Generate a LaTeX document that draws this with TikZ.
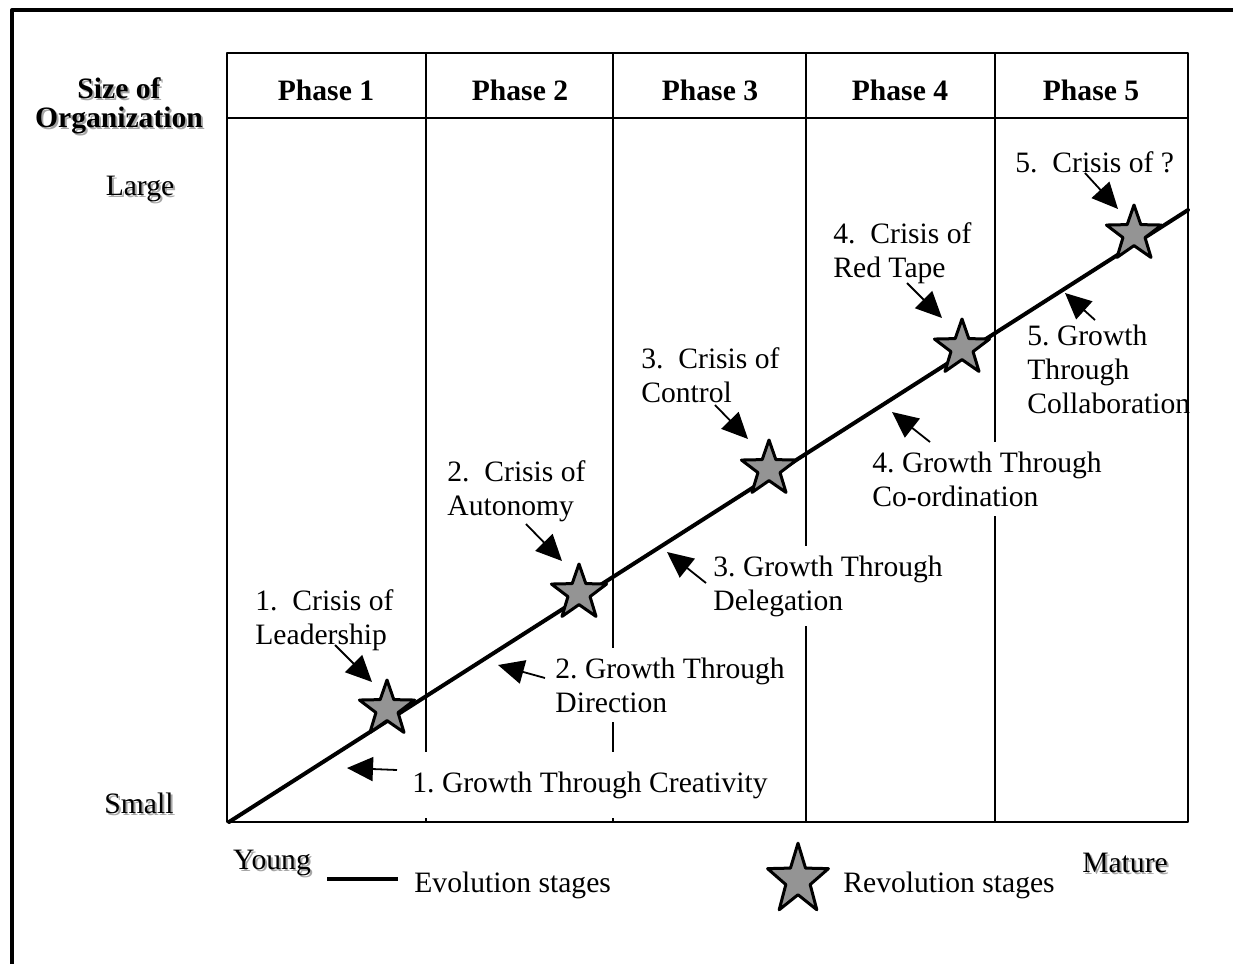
\documentclass[tikz,border=0pt]{standalone}
\usepackage{fontspec}
\setmainfont{Liberation Serif}
\usetikzlibrary{shapes.geometric,arrows.meta}
\frenchspacing
\newcommand{\shd}[1]{\leavevmode\rlap{\kern1pt\raisebox{-1pt}{\color{black!35}#1}}#1}
\tikzset{
  rev/.style={star, star points=5, star point ratio=2.5, minimum size=29pt, inner sep=0pt, fill=black!42, draw=black, line width=1.5pt},
  lbl/.style={anchor=west, align=left, inner sep=0pt},
  gbox/.style={lbl, fill=white, inner xsep=4pt, inner ysep=5pt},
  ptr/.style={-{Triangle[length=13pt,width=12pt]}, line width=0.9pt}
}
\begin{document}
\begin{tikzpicture}[x=0.5pt, y=-0.5pt, font=\fontsize{14.8}{17}\selectfont, line join=round]
    \useasboundingbox (0,0) rectangle (1233,964);
    \draw[line width=2pt] (12,964) -- (12,10) -- (1233,10); %frame
    \draw[line width=1pt] (227,53) rectangle (1188,822);
    \draw[line width=1pt] (227,118) -- (1188,118);
    \foreach \x in {426,613,806,995} \draw[line width=1pt] (\x,53) -- (\x,822);
    % phases
    \node (p1) at (326,90) {\bfseries Phase 1};
    \node (p2) at (520,90) {\bfseries Phase 2};
    \node (p3) at (710,90) {\bfseries Phase 3};
    \node (p4) at (900,90) {\bfseries Phase 4};
    \node (p5) at (1091,90) {\bfseries Phase 5};
    % axes
    \node[align=center, font=\fontsize{14.8}{14.5}\selectfont\bfseries] (size) at (119,107) {\shd{Size of}\\\shd{Organization}};
    \node (large) at (140,190) {\shd{Large}};
    \node (small) at (139,804) {\shd{Small}};
    \node (young) at (272,864) {\shd{Young}};
    \node (mature) at (1125,864) {\shd{Mature}};
    % crises
    \node[lbl] (c1) at (255,620) {1.\ \ Crisis of\\Leadership};
    \node[lbl] (c2) at (447,491) {2.\ \ Crisis of\\Autonomy};
    \node[lbl] (c3) at (641,375) {3.\ \ Crisis of\\Control};
    \node[lbl] (c4) at (833,253) {4.\ \ Crisis of\\Red Tape};
    \node[lbl] (c5) at (1015,162) {5.\ \ Crisis of ?};
    % growth
    \node[gbox, inner ysep=10pt] (g1) at (404,785) {1. Growth Through Creativity};
    \node[gbox] (g2) at (547,685) {2. Growth Through\\Direction};
    \node[gbox] (g3) at (705,586) {3. Growth Through\\Delegation};
    \node[gbox] (g4) at (864,479) {4. Growth Through\\Co-ordination};
    \node[lbl] (g5) at (1027,369) {5. Growth\\Through\\Collaboration};
    % arrows
    \coordinate (ct1) at (335,645); \coordinate (ch1) at (372,682);
    \coordinate (ct2) at (526,524); \coordinate (ch2) at (562,561);
    \coordinate (ct3) at (715,405); \coordinate (ch3) at (748,439);
    \coordinate (ct4) at (907,283); \coordinate (ch4) at (942,318);
    \coordinate (ct5) at (1085,173); \coordinate (ch5) at (1118,209);
    \coordinate (gt1) at (397,770); \coordinate (gh1) at (347,768);
    \coordinate (gt2) at (545,678); \coordinate (gh2) at (498,665);
    \coordinate (gt3) at (706,583); \coordinate (gh3) at (667,552);
    \coordinate (gt4) at (930,442); \coordinate (gh4) at (892,412);
    \coordinate (gt5) at (1095,320); \coordinate (gh5) at (1065,293);
    \foreach \i in {1,...,5} {
        \draw[ptr] (ct\i) -- (ch\i);
        \draw[ptr] (gt\i) -- (gh\i);
    }
    % evolution line and revolutions
    \coordinate (o) at (229,822);
    \coordinate (e) at (1188,210);
    \draw[line width=2pt, line cap=round] (o) -- (e);
    \node[rev] (s1) at (387,709) {};
    \node[rev] (s2) at (579,593) {};
    \node[rev] (s3) at (769,469) {};
    \node[rev] (s4) at (962,348) {};
    \node[rev] (s5) at (1134,234) {};
    % legend
    \coordinate (l1) at (327,879); \coordinate (l2) at (398,879);
    \draw[line width=2pt] (l1) -- (l2);
    \node[lbl] (evo) at (414,885) {Evolution stages};
    \node[rev, minimum size=32pt, yscale=1.15, transform shape] (srev) at (798,880) {};
    \node[lbl] (revo) at (843,885) {Revolution stages};
\end{tikzpicture}
\end{document}
